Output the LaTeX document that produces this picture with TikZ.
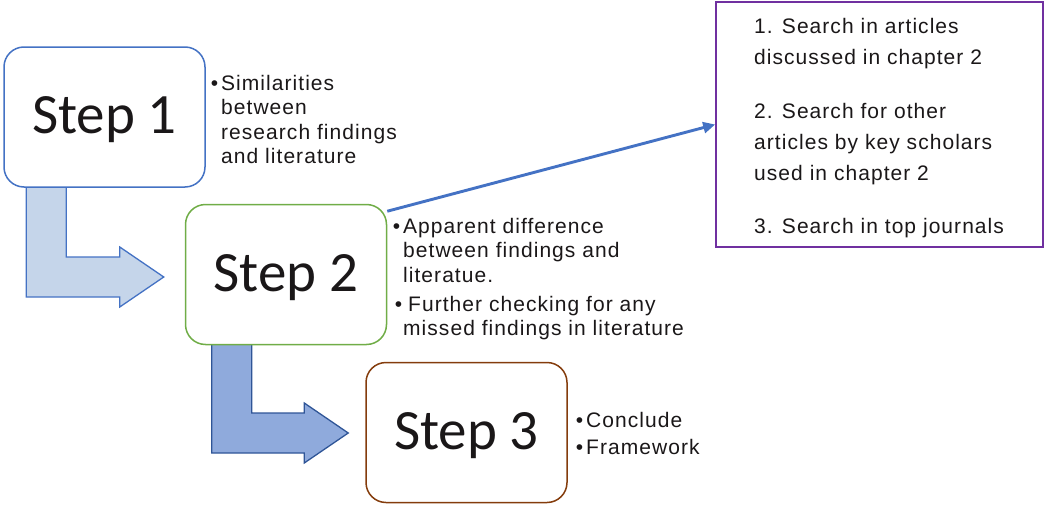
\documentclass[tikz,border=0pt]{standalone}
\usepackage{fontspec}
\setmainfont{Liberation Sans}
\newfontfamily\stepfont{Carlito}
\newfontfamily\bodyfont[LetterSpace=5]{Liberation Sans}
\usetikzlibrary{calc,arrows.meta}
\definecolor{sonebl}{HTML}{4472C4}
\definecolor{stwogr}{HTML}{70AD47}
\definecolor{sthrbr}{HTML}{843C0C}
\definecolor{purp}{HTML}{7030A0}
\definecolor{lightfill}{HTML}{C5D5EA}
\definecolor{darkfill}{HTML}{8FAADC}
\definecolor{darkline}{HTML}{2F5597}
\definecolor{ink}{HTML}{1A1718}
\begin{document}
\begin{tikzpicture}[x=1pt,y=-1pt,
  stepbox/.style={draw, line width=1.5pt, rounded corners=20pt, fill=white,
    minimum width=201pt, minimum height=140pt, inner sep=0pt,
    text height=38pt, text depth=5pt, text=ink,
    font=\stepfont\fontsize{57}{60}\selectfont},
  bullettext/.style={align=left, anchor=north west, inner sep=0pt, text=ink,
    font=\bodyfont\fontsize{21}{24.3}\selectfont},
  listtext/.style={align=left, anchor=north west, inner sep=0pt, text=ink,
    font=\bodyfont\fontsize{21}{31}\selectfont},
  bentone/.style={draw=sonebl, fill=lightfill, line width=1.3pt, line join=miter},
  benttwo/.style={draw=darkline, fill=darkfill, line width=1.3pt, line join=miter},
  linkarrow/.style={draw=sonebl, line width=2.9pt, -{Triangle[length=12pt,width=11pt]}}
]
\useasboundingbox (0,0) rectangle (1045,506);

% box positions
\path (104.5,117) coordinate (c1) (286,274.5) coordinate (c2) (466.5,432.5) coordinate (c3);
\node[draw=purp, line width=1.6pt, minimum width=327pt, minimum height=245pt, inner sep=0pt] (pb) at (879.5,124.5) {};

% invisible frames for the bent arrows (drawn below the boxes)
\node[stepbox, draw=none, fill=none] (s1) at (c1) {};
\node[stepbox, draw=none, fill=none] (s2) at (c2) {};
\node[stepbox, draw=none, fill=none] (s3) at (c3) {};

\coordinate (t1) at ($(s2.west)+(-21,2.5)$);
\path[bentone] ($(s1.south west)+(23,-2)$) coordinate (a1)
  -- ($(s1.south west)+(63,-2)$) coordinate (b1)
  -- ($(b1 |- t1)+(0,-20)$) -- ($(t1)+(-44,-20)$) -- ($(t1)+(-44,-30)$)
  -- (t1) -- ($(t1)+(-44,30)$) -- ($(t1)+(-44,20)$) -- ($(a1 |- t1)+(0,20)$) -- cycle;

\coordinate (t2) at ($(s3.west)+(-17,0.5)$);
\path[benttwo] ($(s2.south west)+(27,-2)$) coordinate (a2)
  -- ($(s2.south west)+(67,-2)$) coordinate (b2)
  -- ($(b2 |- t2)+(0,-20)$) -- ($(t2)+(-44,-20)$) -- ($(t2)+(-44,-30)$)
  -- (t2) -- ($(t2)+(-44,30)$) -- ($(t2)+(-44,20)$) -- ($(a2 |- t2)+(0,20)$) -- cycle;

% step boxes
\node[stepbox, draw=sonebl] (step1) at (c1) {Step 1};
\node[stepbox, draw=stwogr] (step2) at (c2) {Step 2};
\node[stepbox, draw=sthrbr] (step3) at (c3) {Step 3};

% link arrow
\draw[linkarrow] (step2.32) -- (pb.west);

% texts
\node[bullettext] (txt1) at (221,75) {\llap{•\hspace{3pt}}Similarities\\between\\research findings\\and literature};
\node[bullettext] (txt2) at (403,218) {\llap{•\hspace{3pt}}Apparent difference\\between findings and\\literatue.\\[5pt]\llap{•\hspace{1pt}}\hspace{5pt}Further checking for any\\missed findings in literature};
\node[bullettext, font=\bodyfont\fontsize{21}{27}\selectfont] (txt3) at (586,412) {\llap{•\hspace{3pt}}Conclude\\\llap{•\hspace{3pt}}Framework};
\node[listtext] (txt4) at (754,18) {1. Search in articles\\discussed in chapter 2\\[23pt]2. Search for other\\articles by key scholars\\used in chapter 2\\[22pt]3. Search in top journals};
\end{tikzpicture}
\end{document}
